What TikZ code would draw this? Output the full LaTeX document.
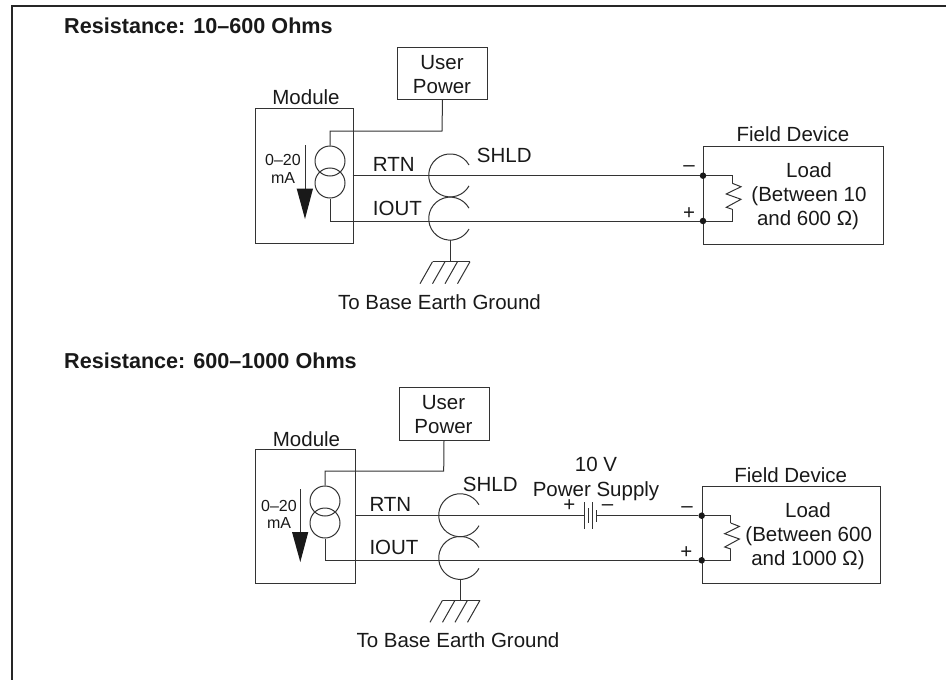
\documentclass[tikz,border=0pt]{standalone}
\usepackage{fontspec}
\setmainfont{Liberation Sans}
\tikzset{
 x=1pt,y=-1pt,
 wire/.style={line width=1pt,draw=black!80},
 frameline/.style={line width=2pt,draw=black!85},
 lbl/.style={inner sep=0pt,anchor=base,font=\fontsize{20.5}{24}\selectfont,text=black!90},
 small/.style={inner sep=0pt,font=\fontsize{16}{18}\selectfont,text=black!90},
 head/.style={inner sep=0pt,anchor=base west,font=\fontsize{21.6}{24}\selectfont\bfseries,text=black!90},
 dot/.style={circle,fill=black!90,inner sep=0pt,minimum size=6.5pt},
 boxn/.style={draw=black!80,line width=1pt,inner sep=0pt,anchor=north west},
 coil/.style={draw=black!80,line width=1pt,circle,minimum size=30pt,inner sep=0pt},
}
\newcommand{\hatch}[2]{% left x, top y
 \draw[wire] (#1,#2) -- (#1+37.5,#2);
 \foreach \k in {0,12.5,25,37.5}{\draw[wire] (#1+\k,#2) -- (#1+\k-12.5,#2+22);}
}
\newcommand{\shieldarc}[2]{% centre x, centre y
 \draw[wire] (#1+19,#2-10.5) arc[start angle=-29,end angle=-331,radius=21.5];
}
\newcommand{\zigzag}[2]{% x, top y
 \draw[wire] (#1,#2) -- (#1+8.7,#2+3.4) -- (#1-6,#2+10.7) -- (#1+8.7,#2+16) -- (#1-6,#2+24) -- (#1,#2+26);
}
\begin{document}
\begin{tikzpicture}
\useasboundingbox (0,0) rectangle (946,680);
\draw[frameline] (12,680) -- (12,5.5) -- (946,5.5);
% ---------- upper circuit
\node[head] (h1) at (64,34) {Resistance: 10–600 Ohms};
\node[boxn,minimum width=90pt,minimum height=52pt] (up1) at (397,47) {};
\node[lbl] (up1a) at (442,69) {User};
\node[lbl] (up1b) at (442,93) {Power};
\node[boxn,minimum width=98pt,minimum height=135pt] (m1) at (254.5,108) {};
\node[lbl] (m1l) at (306,104) {Module};
\node[boxn,minimum width=180pt,minimum height=97.5pt] (f1) at (703,146) {};
\node[lbl] (f1l) at (793,141.5) {Field Device};
\node[coil] (o1a) at (330,161) {};
\node[coil] (o1b) at (330,183) {};
\coordinate (p1) at (330,131);
\coordinate (q1) at (330,221);
\coordinate (p1r) at (442,131);
\node[dot] (d1a) at (703,175.7) {};
\node[dot] (d1b) at (703,221) {};
\draw[wire] (up1.south) -- (p1r) -- (p1) -- (o1a.north);
\draw[wire] (o1b.south) -- (q1) -- (d1b);
\coordinate (r1) at (352.5,175.7);
\draw[wire] (r1) -- (d1a);
\coordinate (z1a) at (732.3,175.7);
\coordinate (z1b) at (732.3,221);
\draw[wire] (d1a) -- (z1a) -- (732.3,183.3);
\zigzag{732.3}{183.3}
\draw[wire] (732.3,209.3) -- (z1b) -- (d1b);
\draw[line width=1pt,black!80] (305,145) -- (305,195);
\fill[black!90] (296.7,188.7) -- (313,188.7) -- (305,219) -- cycle;
\node[small] (a1) at (283,160) {0–20};
\node[small] (a2) at (283,178) {mA};
\node[lbl,anchor=base west] (rtn1) at (372.7,171.7) {RTN};
\node[lbl,anchor=base west] (iout1) at (372.7,215) {IOUT};
\node[lbl,anchor=base west] (s1) at (476.7,162.7) {SHLD};
\shieldarc{450}{175.5}
\shieldarc{450}{218.7}
\coordinate (g1a) at (450.7,240.2);
\coordinate (g1b) at (450.7,261.7);
\draw[wire] (g1a) -- (g1b);
\hatch{432.5}{261.7}
\node[lbl] (t1) at (439.5,309) {To Base Earth Ground};
\node[lbl] (mi1) at (689,171) {–};
\node[lbl] (pl1) at (689,219) {+};
\node[lbl] (l1a) at (809,177) {Load};
\node[lbl] (l1b) at (809,201) {(Between 10};
\node[lbl] (l1c) at (808,225) {and 600 Ω)};
% ---------- lower circuit
\node[head] (h2) at (64,368) {Resistance: 600–1000 Ohms};
\node[boxn,minimum width=90pt,minimum height=53pt] (up2) at (398.5,387) {};
\node[lbl] (up2a) at (443.5,409) {User};
\node[lbl] (up2b) at (443.5,433) {Power};
\node[boxn,minimum width=100.5pt,minimum height=133.5pt] (m2) at (254.5,449) {};
\node[lbl] (m2l) at (306.5,446) {Module};
\node[boxn,minimum width=178pt,minimum height=96.5pt] (f2) at (701.7,486) {};
\node[lbl] (f2l) at (790.7,482.5) {Field Device};
\node[coil] (o2a) at (325,501) {};
\node[coil] (o2b) at (325,523) {};
\coordinate (p2) at (325,471);
\coordinate (q2) at (325,560.3);
\coordinate (p2r) at (443.7,471);
\node[dot] (d2a) at (701.7,515.7) {};
\node[dot] (d2b) at (701.7,560.3) {};
\draw[wire] (up2.south) -- (p2r) -- (p2) -- (o2a.north);
\draw[wire] (o2b.south) -- (q2) -- (d2b);
\coordinate (r2) at (355,515.7);
\coordinate (b1) at (584,515.7);
\coordinate (b2) at (596.7,515.7);
\draw[wire] (r2) -- (b1);
\draw[wire] (b2) -- (d2a);
\draw[wire] (584,502) -- (584,529);
\draw[wire] (588.3,508) -- (588.3,523);
\draw[wire] (592.7,502) -- (592.7,529);
\draw[wire] (596.7,510) -- (596.7,522);
\coordinate (z2a) at (730.7,515.7);
\coordinate (z2b) at (730.7,560.3);
\draw[wire] (d2a) -- (z2a) -- (730.7,523);
\zigzag{730.7}{523}
\draw[wire] (730.7,549) -- (z2b) -- (d2b);
\draw[line width=1pt,black!80] (300.3,489) -- (300.3,538);
\fill[black!90] (292,532) -- (308.3,532) -- (300.3,562) -- cycle;
\node[small] (a3) at (279,506) {0–20};
\node[small] (a4) at (279,523) {mA};
\node[lbl,anchor=base west] (rtn2) at (369.3,511.7) {RTN};
\node[lbl,anchor=base west] (iout2) at (369.3,554.3) {IOUT};
\node[lbl,anchor=base west] (s2) at (462.7,491.7) {SHLD};
\shieldarc{460}{515.3}
\shieldarc{460}{558}
\coordinate (g2a) at (460.7,579.5);
\coordinate (g2b) at (460.7,600.3);
\draw[wire] (g2a) -- (g2b);
\hatch{442.5}{600.3}
\node[lbl] (t2) at (458,647) {To Base Earth Ground};
\node[lbl] (v1) at (596,471.7) {10 V};
\node[lbl] (v2) at (596,496) {Power Supply};
\node[lbl] (bp) at (569.3,511) {+};
\node[lbl] (bm) at (607.5,510) {–};
\node[lbl] (mi2) at (687,512.5) {–};
\node[lbl] (pl2) at (686.3,558) {+};
\node[lbl] (l2a) at (808,517.7) {Load};
\node[lbl] (l2b) at (808.7,541.7) {(Between 600};
\node[lbl] (l2c) at (808,565) {and 1000 Ω)};
\end{tikzpicture}
\end{document}
